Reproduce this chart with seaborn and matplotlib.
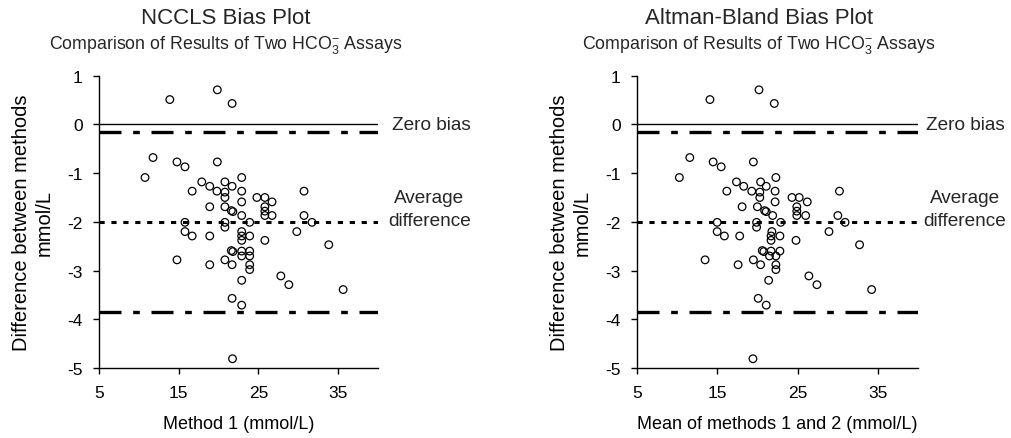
import matplotlib
matplotlib.use("Agg")
import matplotlib.pyplot as plt
import seaborn as sns
import numpy as np

# ---------------- data ----------------
method1 = [13.9, 19.85, 21.7, 11.8, 14.8, 15.8, 19.85, 10.8, 22.9, 17.9,
           18.9, 20.8, 21.7, 16.7, 19.8, 20.8, 22.9, 20.8, 24.8, 25.8,
           30.7, 22.9, 26.7, 18.9, 20.8, 25.8, 21.6, 21.8, 25.8, 22.9,
           25.8, 26.7, 30.7, 15.8, 20.8, 23.9, 31.7, 20.8, 15.8, 22.9,
           29.8, 16.7, 18.9, 22.9, 23.9, 22.9, 25.8, 33.8, 14.8, 21.6,
           21.8, 22.9, 23.9, 22.9, 23.9, 20.8, 18.9, 21.7, 23.9, 23.9,
           27.8, 28.8, 22.9, 35.6, 21.7, 22.9, 21.75]
mean12 = [14.1, 20.2, 22.1, 11.6, 14.5, 15.5, 19.5, 10.3, 22.3, 17.4,
          18.3, 20.4, 21.1, 16.2, 19.3, 20.3, 22.2, 20.3, 24.3, 25.2,
          30.2, 22.2, 26.2, 18.1, 20.0, 24.9, 20.9, 21.1, 24.9, 21.9,
          24.9, 26.0, 30.0, 15.0, 19.9, 22.9, 30.9, 19.9, 15.0, 21.8,
          28.9, 15.9, 17.8, 21.7, 22.8, 21.7, 24.8, 32.7, 13.5, 20.6,
          20.8, 21.7, 22.8, 21.5, 22.3, 19.5, 17.6, 20.4, 22.3, 22.3,
          26.4, 27.4, 21.4, 34.2, 20.1, 21.1, 19.45]
diff = [0.51, 0.71, 0.43, -0.68, -0.77, -0.87, -0.77, -1.09, -1.09, -1.18,
        -1.27, -1.18, -1.27, -1.37, -1.37, -1.39, -1.37, -1.50, -1.50, -1.50,
        -1.37, -1.59, -1.59, -1.69, -1.69, -1.69, -1.77, -1.79, -1.78, -1.87,
        -1.87, -1.87, -1.87, -2.01, -2.01, -2.01, -2.01, -2.11, -2.20, -2.20,
        -2.20, -2.29, -2.29, -2.29, -2.29, -2.38, -2.38, -2.47, -2.78, -2.59,
        -2.61, -2.60, -2.60, -2.70, -2.70, -2.78, -2.88, -2.88, -2.88, -2.98,
        -3.11, -3.29, -3.20, -3.39, -3.57, -3.71, -4.81]

zero_bias = 0.0
avg_diff = -2.0
limits = [-0.16, -3.85]

titles = ["NCCLS Bias Plot", "Altman-Bland Bias Plot"]
subtitle = "Comparison of Results of Two HCO$_3^{-}$ Assays"
xlabels = ["Method 1 (mmol/L)", "Mean of methods 1 and 2 (mmol/L)"]
ylabel = "Difference between methods\nmmol/L"
xticks = [5, 15, 25, 35]
yticks = [-5, -4, -3, -2, -1, 0, 1]

# ---------------- style ----------------
sns.set_style("ticks")
plt.rcParams["font.family"] = ["Liberation Sans", "DejaVu Sans"]
plt.rcParams["mathtext.fontset"] = "custom"
plt.rcParams["mathtext.rm"] = "Liberation Sans"
plt.rcParams["mathtext.it"] = "Liberation Sans:italic"
plt.rcParams["mathtext.bf"] = "Liberation Sans:bold"

W, H = 1012, 439
fig = plt.figure(figsize=(W / 100, H / 100), dpi=100)

ax_px = [(98.7, 378.3), (636.7, 918.3)]
top_px, bot_px = 76.7, 369.0
title_cx = [226, 759]
xs = [method1, mean12]
zero_x = [41.7, 41.0]
avg_x = [46.4, 45.8]

for i in range(2):
    l, r = ax_px[i]
    ax = fig.add_axes([l / W, 1 - bot_px / H, (r - l) / W, (bot_px - top_px) / H])
    ax.axhline(zero_bias, color="black", lw=1.0)
    for lim in limits:
        ax.axhline(lim, color="black", lw=2.4, dashes=(6.6, 3.5, 2.0, 3.5))
    ax.axhline(avg_diff, color="black", lw=2.2, dashes=(1.7, 2.2))
    sns.scatterplot(x=xs[i], y=diff, ax=ax, marker="o", s=30,
                    fc="none", ec="black", linewidth=0.9, zorder=5)
    ax.set_xlim(5, 40)
    ax.set_ylim(-5, 1)
    ax.set_xticks(xticks)
    ax.set_yticks(yticks)
    ax.set_xticklabels([str(t) for t in xticks])
    ax.set_yticklabels([str(t) for t in yticks])
    sns.despine(ax=ax)
    for s in ["left", "bottom"]:
        ax.spines[s].set_linewidth(1.0)
        ax.spines[s].set_color("black")
    ax.tick_params(axis="both", direction="out", length=4.5, width=1.0,
                   color="black", labelsize=12.5, labelcolor="black")
    ax.tick_params(axis="x", pad=8)
    ax.tick_params(axis="y", pad=7)
    ax.set_xlabel(xlabels[i], fontsize=13, color="black")
    ax.xaxis.set_label_coords(0.5, -(425 - bot_px) / (bot_px - top_px))
    ax.xaxis.label.set_va("center")
    ax.set_ylabel(ylabel, fontsize=14.5, color="black", linespacing=1.25)
    ax.yaxis.set_label_coords(-66 / (r - l), 0.5)
    ax.yaxis.label.set_va("center")
    ax.text(zero_x[i], zero_bias, "Zero bias", fontsize=13.7, va="center",
            ha="left", clip_on=False)
    ax.text(avg_x[i], -1.5, "Average", fontsize=13.7, va="center",
            ha="center", clip_on=False)
    ax.text(avg_x[i], -1.97, "difference", fontsize=13.7, va="center",
            ha="center", clip_on=False)
    fig.text(title_cx[i] / W, 1 - 18 / H, titles[i], fontsize=16,
             ha="center", va="center")
    fig.text(title_cx[i] / W, 1 - 45 / H, subtitle, fontsize=12.8,
             ha="center", va="center")

fig.savefig("out.png", dpi=100)
